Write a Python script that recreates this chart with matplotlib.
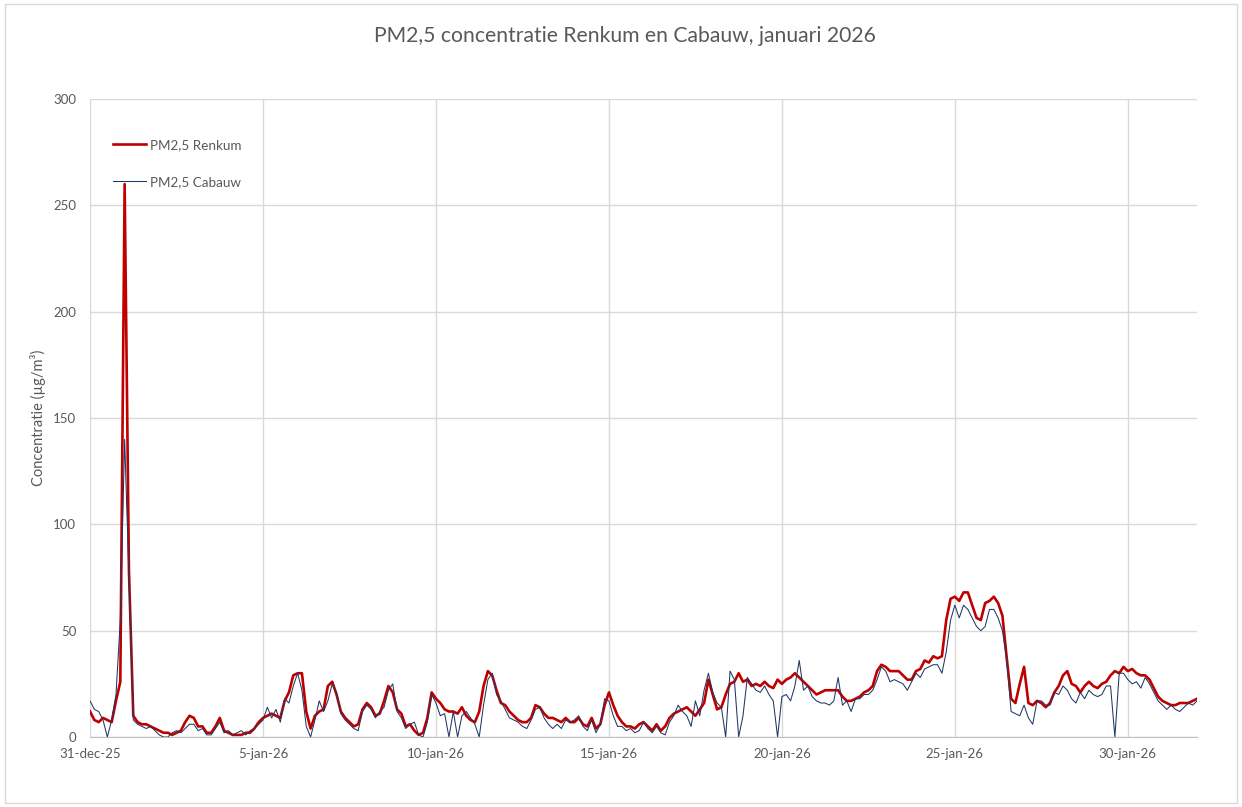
import matplotlib
matplotlib.use("Agg")
import matplotlib.pyplot as plt
from matplotlib.patches import Rectangle
import pandas as pd

# PM2,5 (ug/m3), one value per 3 hours, 8 values per day from 31-dec-25 00:00
renkum = [
    12, 8, 7, 9, 8, 7, 17, 26,        # 31-dec
    260, 78, 10, 7, 6, 6, 5, 4,       # 1-jan
    3, 2, 2, 1, 2, 3, 7, 10,
    9, 5, 5, 2, 2, 5, 9, 3,
    2, 1, 1, 1, 2, 2, 4, 7,
    9, 10, 11, 10, 9, 17, 21, 29,     # 5-jan
    30, 30, 12, 4, 10, 12, 13, 24,
    26, 20, 12, 9, 7, 5, 6, 13,
    16, 14, 10, 11, 17, 24, 21, 13,
    11, 5, 6, 3, 1, 2, 9, 21,
    18, 16, 13, 12, 12, 11, 14, 10,   # 10-jan
    8, 7, 12, 24, 31, 29, 22, 16,
    15, 12, 10, 8, 7, 7, 9, 15,
    14, 11, 9, 9, 8, 7, 9, 7,
    7, 9, 6, 5, 9, 4, 6, 15,
    21, 15, 10, 7, 5, 5, 4, 6,        # 15-jan
    7, 5, 3, 6, 3, 5, 9, 11,
    12, 13, 14, 12, 10, 13, 16, 27,
    20, 13, 14, 20, 25, 26, 30, 26,
    27, 24, 25, 24, 26, 24, 23, 27,
    25, 27, 28, 30, 28, 26, 24, 22,   # 20-jan
    20, 21, 22, 22, 22, 22, 19, 17,
    17, 18, 19, 21, 22, 24, 31, 34,
    33, 31, 31, 31, 29, 27, 27, 31,
    32, 36, 35, 38, 37, 38, 55, 65,
    66, 64, 68, 68, 62, 56, 55, 63,   # 25-jan
    64, 66, 63, 57, 37, 18, 16, 25,
    33, 16, 15, 17, 16, 14, 16, 21,
    24, 29, 31, 25, 24, 21, 24, 26,
    24, 23, 25, 26, 29, 31, 30, 33,
    31, 32, 30, 29, 29, 27, 23, 19,   # 30-jan
    17, 16, 15, 15, 16, 16, 16, 17,
    18,
]

cabauw = [
    17, 13, 12, 8, 0, 8, 20, 55,      # 31-dec
    140, 75, 8, 6, 5, 4, 5, 3,        # 1-jan
    1, 0, 0, 2, 3, 2, 4, 6,
    6, 3, 4, 1, 1, 4, 7, 2,
    3, 1, 2, 3, 1, 3, 4, 6,
    8, 14, 9, 13, 7, 18, 16, 24,      # 5-jan
    30, 22, 5, 0, 8, 17, 12, 17,
    25, 21, 11, 8, 6, 4, 3, 12,
    15, 13, 9, 12, 14, 22, 25, 12,
    9, 4, 6, 7, 1, 0, 7, 20,
    16, 10, 11, 0, 12, 0, 10, 12,     # 10-jan
    9, 6, 0, 15, 27, 30, 20, 17,
    13, 9, 8, 7, 5, 4, 8, 13,
    14, 9, 6, 4, 6, 4, 8, 7,
    8, 10, 5, 3, 8, 2, 6, 18,
    17, 10, 5, 5, 3, 4, 2, 3,         # 15-jan
    7, 4, 2, 5, 2, 1, 7, 10,
    15, 12, 10, 5, 17, 10, 22, 30,
    21, 16, 14, 0, 31, 27, 0, 10,
    28, 25, 22, 21, 24, 20, 17, 0,
    19, 20, 17, 24, 36, 22, 24, 19,   # 20-jan
    17, 16, 16, 15, 17, 28, 15, 17,
    12, 18, 18, 20, 20, 22, 27, 33,
    31, 26, 27, 26, 25, 22, 26, 30,
    28, 32, 33, 34, 34, 30, 40, 55,
    62, 56, 62, 60, 56, 52, 50, 52,   # 25-jan
    60, 60, 56, 50, 36, 12, 11, 10,
    15, 9, 6, 17, 17, 15, 15, 21,
    20, 24, 22, 18, 16, 21, 18, 22,
    20, 19, 20, 24, 24, 0, 30, 30,
    27, 25, 26, 23, 28, 25, 21, 17,   # 30-jan
    15, 13, 15, 13, 12, 14, 16, 15,
    17,
]

tick_dates = ["2025-12-31", "2026-01-05", "2026-01-10", "2026-01-15",
              "2026-01-20", "2026-01-25", "2026-01-30"]
tick_labels = ["31-dec-25", "5-jan-26", "10-jan-26", "15-jan-26",
               "20-jan-26", "25-jan-26", "30-jan-26"]

times = pd.date_range("2025-12-31 00:00", periods=len(renkum), freq="3h")

plt.rcParams['font.family'] = ['Lato', 'DejaVu Sans']
grey = '#595959'

fig = plt.figure(figsize=(12.42, 8.07), dpi=100)
ax = fig.add_axes([0.0725, 0.0867, 0.8913, 0.7906])

ax.plot(times, renkum, color='#C00000', lw=1.9, label='PM2,5 Renkum')
ax.plot(times, cabauw, color='#203864', lw=0.75, label='PM2,5 Cabauw')

ax.set_xlim(pd.Timestamp("2025-12-31"), pd.Timestamp("2026-02-01"))
ax.set_ylim(0, 300)
ax.set_yticks(range(0, 301, 50))
ax.set_xticks(pd.to_datetime(tick_dates))
ax.set_xticklabels(tick_labels)

ax.grid(True, color='#d9d9d9', lw=1.0)
ax.set_axisbelow(True)
for side in ['top', 'right', 'left']:
    ax.spines[side].set_visible(False)
ax.spines['bottom'].set_color('#bfbfbf')
ax.tick_params(axis='both', length=0, labelsize=9.5, colors=grey, pad=8)
ax.tick_params(axis='y', pad=10)

ax.set_ylabel('Concentratie (µg/m³)', fontsize=10.5, color=grey, labelpad=5)
fig.text(0.503, 0.955, 'PM2,5 concentratie Renkum en Cabauw, januari 2026',
         ha='center', va='center', fontsize=15.2, color=grey)

leg = ax.legend(loc='upper left', bbox_to_anchor=(0.0156, 0.946), frameon=False,
                fontsize=9.7, handlelength=2.5, handletextpad=0.25, labelspacing=1.85,
                borderaxespad=0)
for t in leg.get_texts():
    t.set_color(grey)

fig.patches.append(Rectangle((0.004, 0.005), 0.992, 0.99, transform=fig.transFigure,
                             fill=False, edgecolor='#d9d9d9', lw=1.0))

fig.savefig('out.png', dpi=100)
